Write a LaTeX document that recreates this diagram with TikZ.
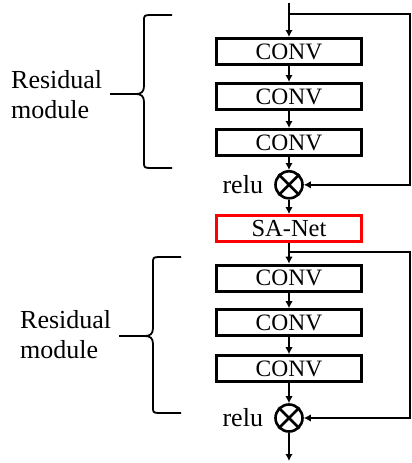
\documentclass[tikz,border=0pt]{standalone}
\usepackage{fontspec}
\setmainfont{Liberation Serif}
\definecolor{sared}{RGB}{255, 0, 0}
\usetikzlibrary{arrows.meta, positioning}
\tikzset{
	conv/.style={rectangle, draw=black, line width=3pt, minimum width=145pt, minimum height=26pt, inner sep=0pt, font=\fontsize{23.5}{27}\selectfont},
	attn/.style={conv, draw=sared, line width=2.6pt, font=\fontsize{24.5}{28}\selectfont},
	mult/.style={circle, draw=black, line width=2.6pt, minimum size=27pt, inner sep=0pt},
	tag/.style={font=\fontsize{26}{30}\selectfont, inner sep=0pt},
	wire/.style={line width=2.2pt, draw=black},
	arrow/.style={wire, -{Latex[length=7pt, width=7.5pt]}},
	brace/.style={line width=1.8pt, draw=black},
}
\begin{document}
\begin{tikzpicture}[x=1pt, y=-1pt]
		\useasboundingbox (0,0) rectangle (412,463);
		% first residual module
		\coordinate (in1) at (289,3);
		\coordinate (tap1) at (289,14);
		\coordinate (rt1) at (410,14);
		\node[conv] (conv1) at (289,51.5) {CONV};
		\node[conv, below=16pt of conv1] (conv2) {CONV};
		\node[conv, below=17pt of conv2] (conv3) {CONV};
		\node[mult, below=13pt of conv3] (mul1) {};
		\node[tag, left=11pt of mul1] (relu1) {relu};
		\node[attn, below=14.5pt of mul1] (sanet) {SA-Net};
		% second residual module
		\coordinate (tap2) at (289,252);
		\coordinate (rt2) at (410,252);
		\node[conv, below=21pt of sanet] (conv4) {CONV};
		\node[conv, below=15.5pt of conv4] (conv5) {CONV};
		\node[conv, below=17pt of conv5] (conv6) {CONV};
		\node[mult, below=20pt of conv6] (mul2) {};
		\node[tag, left=11pt of mul2] (relu2) {relu};
		\coordinate (out) at (289,461);
		% main path
		\draw[arrow] (in1) -- (conv1);
		\foreach \a/\b in {conv1/conv2, conv2/conv3, conv3/mul1, mul1/sanet, sanet/conv4, conv4/conv5, conv5/conv6, conv6/mul2}{\draw[arrow] (\a) -- (\b);}
		\draw[arrow] (mul2) -- (out);
		% shortcuts
		\draw[arrow] (tap1) -- (rt1) |- (mul1);
		\draw[arrow] (tap2) -- (rt2) |- (mul2);
		% crosses
		\foreach \m in {mul1, mul2}{
			\draw[line width=2.6pt] (\m.north west) -- (\m.south east) (\m.north east) -- (\m.south west);
		}
		% braces and labels
		\foreach \sx/\ty/\my/\by in {144/15/94/168, 153/257/336/413}{
			\draw[brace] (\sx+28,\ty) -- (\sx+6,\ty) .. controls (\sx,\ty) and (\sx,\ty+1) .. (\sx,\ty+6) -- (\sx,\my-8) .. controls (\sx,\my-2) and (\sx-3,\my) .. (\sx-8,\my) -- (\sx-34,\my)
				(\sx-8,\my) .. controls (\sx-3,\my) and (\sx,\my+2) .. (\sx,\my+8) -- (\sx,\by-6) .. controls (\sx,\by-1) and (\sx,\by) .. (\sx+6,\by) -- (\sx+28,\by);
		}
		\node[tag, align=left, anchor=west] (lab1) at (11,95) {Residual\\module};
		\node[tag, align=left, anchor=west] (lab2) at (20,335) {Residual\\module};
	\end{tikzpicture}
\end{document}
